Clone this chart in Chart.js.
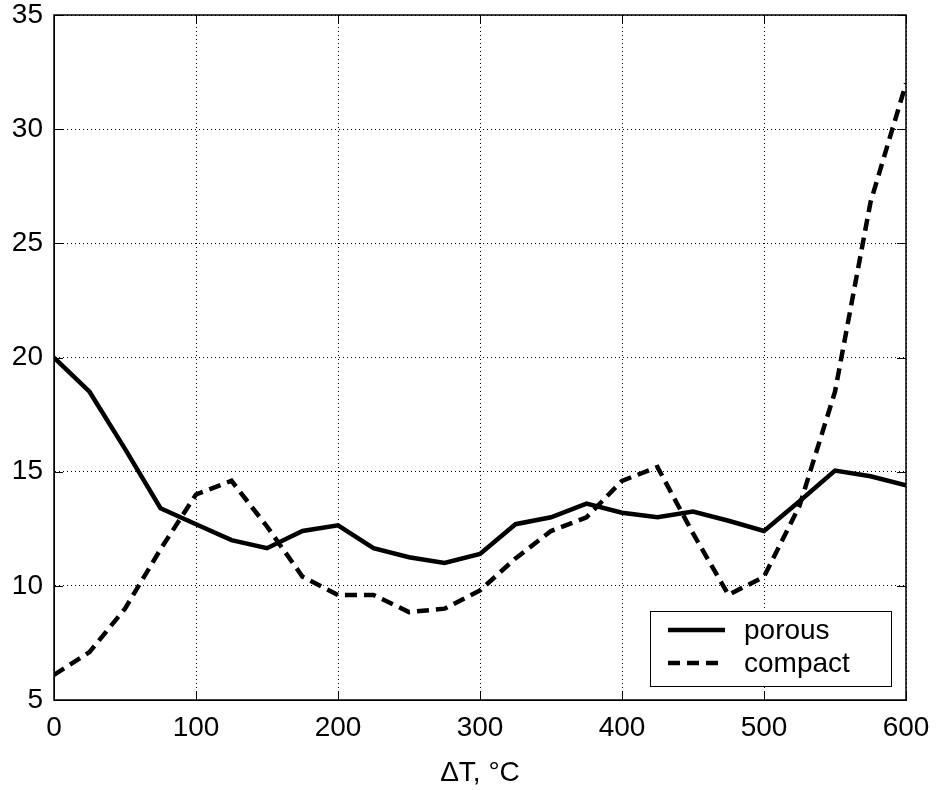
<!DOCTYPE html>
<html>
<head>
<meta charset="utf-8">
<title>porous vs compact</title>
<script src="https://cdn.jsdelivr.net/npm/chart.js@4.4.0/dist/chart.umd.min.js"></script>
<style>
  html, body { margin: 0; padding: 0; background: #fff; }
  #wrap { width: 936px; height: 790px; }
</style>
</head>
<body>
<div id="wrap"><canvas id="dtChart" width="936" height="790"></canvas></div>
<script>
// temperature difference, deg C
const deltaT = [0, 25, 50, 75, 100, 125, 150, 175, 200, 225, 250, 275, 300,
                325, 350, 375, 400, 425, 450, 475, 500, 525, 550, 575, 600];
const porous = [20.0, 18.5, 16.0, 13.4, 12.7, 12.0, 11.65, 12.4, 12.65, 11.65, 11.25, 11.0, 11.4,
                12.7, 13.0, 13.6, 13.2, 13.0, 13.25, 12.85, 12.4, 13.7, 15.05, 14.8, 14.4];
const compact = [6.1, 7.1, 9.0, 11.6, 14.0, 14.6, 12.6, 10.4, 9.6, 9.6, 8.85, 9.0, 9.8,
                 11.2, 12.4, 13.0, 14.6, 15.2, 12.3, 9.6, 10.4, 13.5, 18.5, 26.8, 32.0];
const xTicks = [0, 100, 200, 300, 400, 500, 600];
const yTicks = [5, 10, 15, 20, 25, 30, 35];

const FONT = "'Liberation Sans', Arial, Helvetica, sans-serif";
const dashPattern = [12, 7];

function toPoints(ys) {
    return deltaT.map((t, i) => ({ x: t, y: ys[i] }));
}

// matlab style box with inward ticks
const boxPlugin = {
    id: "boxPlugin",
    afterDatasetsDraw(chart) {
        const { ctx, chartArea: a, scales } = chart;
        const tl = 9;
        ctx.save();
        ctx.strokeStyle = "#000";
        ctx.lineWidth = 1;
        ctx.setLineDash([]);
        ctx.beginPath();
        xTicks.forEach(v => {
            const px = Math.round(scales.x.getPixelForValue(v)) + 0.5;
            ctx.moveTo(px, a.bottom); ctx.lineTo(px, a.bottom - tl);
            ctx.moveTo(px, a.top); ctx.lineTo(px, a.top + tl);
        });
        yTicks.forEach(v => {
            const py = Math.round(scales.y.getPixelForValue(v)) + 0.5;
            ctx.moveTo(a.left, py); ctx.lineTo(a.left + tl, py);
            ctx.moveTo(a.right, py); ctx.lineTo(a.right - tl, py);
        });
        ctx.stroke();
        ctx.lineWidth = 1.5;
        ctx.strokeRect(a.left, a.top, a.right - a.left, a.bottom - a.top);
        ctx.restore();
    }
};

// legend box inside the lower right corner
const legendBox = {
    id: "legendBox",
    afterDraw(chart) {
        const { ctx, chartArea: a } = chart;
        const w = 241, h = 75;
        const left = a.right - 15 - w;
        const top = a.bottom - 14 - h;
        ctx.save();
        ctx.fillStyle = "#fff";
        ctx.fillRect(left, top, w, h);
        ctx.strokeStyle = "#000";
        ctx.lineWidth = 1;
        ctx.strokeRect(left + 0.5, top + 0.5, w, h);
        ctx.font = "28px " + FONT;
        ctx.textBaseline = "middle";
        ctx.textAlign = "left";
        chart.data.datasets.forEach((ds, i) => {
            const y = top + 19 + i * 33;
            ctx.beginPath();
            ctx.lineWidth = ds.borderWidth;
            ctx.setLineDash(ds.borderDash || []);
            ctx.moveTo(left + 18, y);
            ctx.lineTo(left + 75, y);
            ctx.stroke();
            ctx.setLineDash([]);
            ctx.fillStyle = "#000";
            ctx.fillText(ds.label, left + 94, y + 1);
        });
        ctx.restore();
    }
};

const ctxEl = document.getElementById("dtChart");
new Chart(ctxEl, {
    type: "line",
    data: {
        datasets: [
            {
                label: "porous",
                data: toPoints(porous),
                borderColor: "#000",
                borderWidth: 4.5,
                pointRadius: 0,
                tension: 0,
                fill: false
            },
            {
                label: "compact",
                data: toPoints(compact),
                borderColor: "#000",
                borderWidth: 4.5,
                borderDash: dashPattern,
                pointRadius: 0,
                tension: 0,
                fill: false
            }
        ]
    },
    options: {
        responsive: false,
        animation: false,
        devicePixelRatio: 1,
        layout: { padding: { top: 15, right: 30, left: 0, bottom: 0 } },
        plugins: {
            legend: { display: false },
            tooltip: { enabled: false }
        },
        scales: {
            x: {
                type: "linear",
                min: 0,
                max: 600,
                afterBuildTicks: s => { s.ticks = xTicks.map(v => ({ value: v })); },
                afterFit: s => {
                    s.height = 90;
                    s.paddingLeft = 0;
                    s.paddingRight = 0;
                },
                ticks: {
                    color: "#000",
                    padding: 11,
                    maxRotation: 0,
                    font: { family: FONT, size: 28 }
                },
                grid: { color: "#000", lineWidth: 1, drawTicks: false },
                border: { color: "#000", width: 1, dash: [1, 3] },
                title: {
                    display: true,
                    text: "\u0394T, \u00b0C",
                    color: "#000",
                    font: { family: FONT, size: 28 },
                    padding: { top: 0, bottom: 0 }
                }
            },
            y: {
                min: 5,
                max: 35,
                afterBuildTicks: s => { s.ticks = yTicks.map(v => ({ value: v })); },
                afterFit: s => {
                    s.width = 54;
                    s.paddingTop = 0;
                    s.paddingBottom = 0;
                },
                ticks: {
                    color: "#000",
                    padding: 11,
                    font: { family: FONT, size: 28 }
                },
                grid: { color: "#000", lineWidth: 1, drawTicks: false },
                border: { color: "#000", width: 1, dash: [1, 3] }
            }
        }
    },
    plugins: [boxPlugin, legendBox]
});
</script>
</body>
</html>
